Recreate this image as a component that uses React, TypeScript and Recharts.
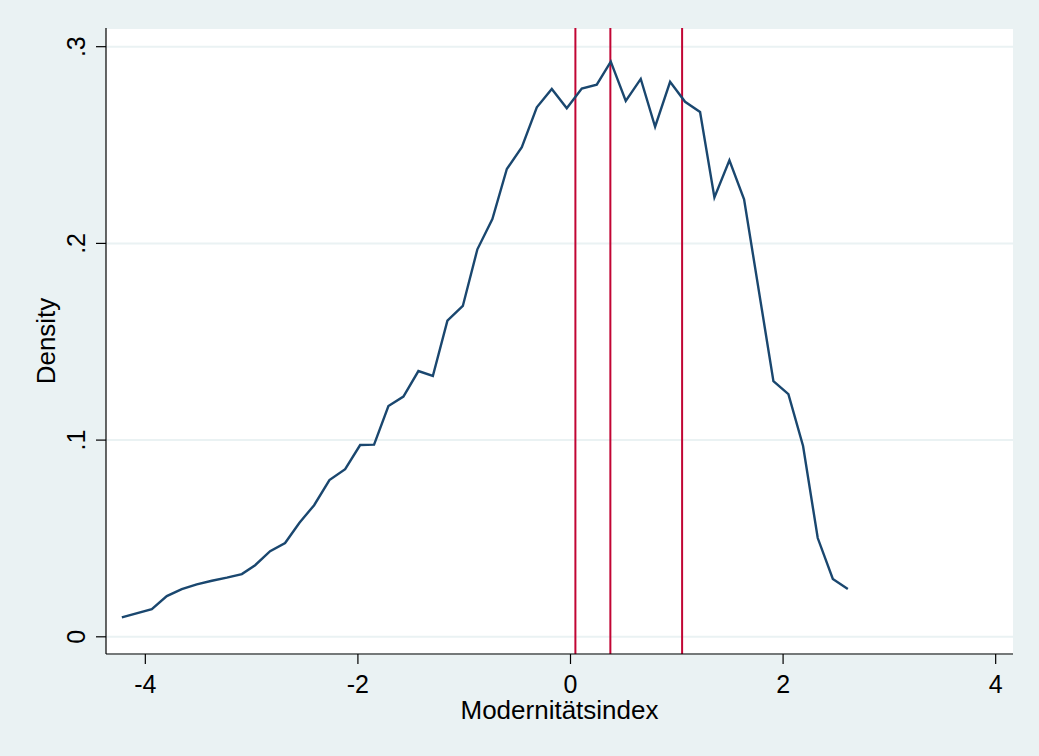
import React from 'react';
import { LineChart, Line, XAxis, YAxis, CartesianGrid, ReferenceLine } from 'recharts';

// Modernitätsindex (x) and kernel density estimate (y)
const modIndex = [
  -4.221, -3.939, -3.798, -3.657, -3.516, -3.374, -3.233, -3.092, -2.967, -2.826,
  -2.685, -2.55, -2.412, -2.268, -2.12, -1.979, -1.848, -1.713, -1.572, -1.431,
  -1.295, -1.158, -1.013, -0.876, -0.735, -0.599, -0.458, -0.317, -0.176, -0.035,
  0.106, 0.247, 0.379, 0.52, 0.661, 0.796, 0.937, 1.078, 1.219, 1.354,
  1.495, 1.633, 1.909, 2.05, 2.188, 2.326, 2.468, 2.609,
];
const density = [
  0.0099, 0.0141, 0.0207, 0.0242, 0.0267, 0.0285, 0.0301, 0.0319, 0.0364, 0.0435,
  0.0477, 0.058, 0.0669, 0.0797, 0.0852, 0.0975, 0.0977, 0.1173, 0.1221, 0.1351,
  0.1326, 0.1607, 0.1682, 0.197, 0.2124, 0.2378, 0.2489, 0.2692, 0.2785, 0.2687,
  0.2787, 0.2807, 0.2924, 0.2724, 0.2836, 0.2593, 0.2821, 0.272, 0.2668, 0.2234,
  0.2422, 0.2224, 0.13, 0.1234, 0.097, 0.0502, 0.0294, 0.0243,
];
// vertical marker lines (red)
const markers = [0.046, 0.375, 1.05];

const xTicks = [-4, -2, 0, 2, 4];
const yTicks = [0, 0.1, 0.2, 0.3];

const data = modIndex.map((x, i) => ({ x, d: density[i] }));

const FONT = '"Liberation Sans", Arial, Helvetica, sans-serif';
const BG = '#eaf2f3';

const fmtY = (v: number) => (v === 0 ? '0' : String(v).replace(/^0/, ''));

const XTick = (props: any) => {
  const { x, y, payload } = props;
  return (
    <text x={x} y={y + 27} textAnchor="middle" fontSize={25} fontFamily={FONT} fill="#000">
      {payload.value}
    </text>
  );
};

const YTick = (props: any) => {
  const { y, payload } = props;
  const bx = 85;
  return (
    <text
      x={bx}
      y={y}
      transform={`rotate(-90, ${bx}, ${y})`}
      textAnchor="middle"
      fontSize={25}
      fontFamily={FONT}
      fill="#000"
    >
      {fmtY(payload.value)}
    </text>
  );
};

export default function App() {
  return (
    <div style={{ position: 'absolute', left: 0, top: 0, width: 1039, height: 756, background: BG }}>
      <LineChart width={1039} height={756} data={data} margin={{ top: 28, right: 26, bottom: 0, left: 0 }}>
        <CartesianGrid vertical={false} fill="#fff" stroke={BG} strokeWidth={2} />
        <XAxis
          type="number"
          dataKey="x"
          domain={[-4.37, 4.163]}
          ticks={xTicks}
          allowDataOverflow
          height={102}
          tickSize={10}
          axisLine={{ stroke: '#000', strokeWidth: 1.2 }}
          tickLine={{ stroke: '#000', strokeWidth: 1.2 }}
          tick={<XTick />}
          label={{
            content: (p: any) => {
              const vb = p.viewBox;
              return (
                <text x={vb.x + vb.width / 2} y={719} textAnchor="middle" fontSize={26} fontFamily={FONT} fill="#000">
                  Modernitätsindex
                </text>
              );
            },
          }}
        />
        <YAxis
          type="number"
          domain={[-0.00874, 0.3095]}
          ticks={yTicks}
          allowDataOverflow
          width={106}
          tickSize={10}
          axisLine={{ stroke: '#000', strokeWidth: 1.2 }}
          tickLine={{ stroke: '#000', strokeWidth: 1.2 }}
          tick={<YTick />}
          label={{
            content: (p: any) => {
              const vb = p.viewBox;
              const cy = vb.y + vb.height / 2;
              return (
                <text
                  x={55}
                  y={cy}
                  transform={`rotate(-90, 55, ${cy})`}
                  textAnchor="middle"
                  fontSize={26}
                  fontFamily={FONT}
                  fill="#000"
                >
                  Density
                </text>
              );
            },
          }}
        />
        {markers.map((m) => (
          <ReferenceLine key={m} x={m} stroke="#c10534" strokeWidth={2} ifOverflow="extendDomain" />
        ))}
        <Line
          type="linear"
          dataKey="d"
          stroke="#1a476f"
          strokeWidth={2.4}
          dot={false}
          activeDot={false}
          isAnimationActive={false}
        />
      </LineChart>
    </div>
  );
}
